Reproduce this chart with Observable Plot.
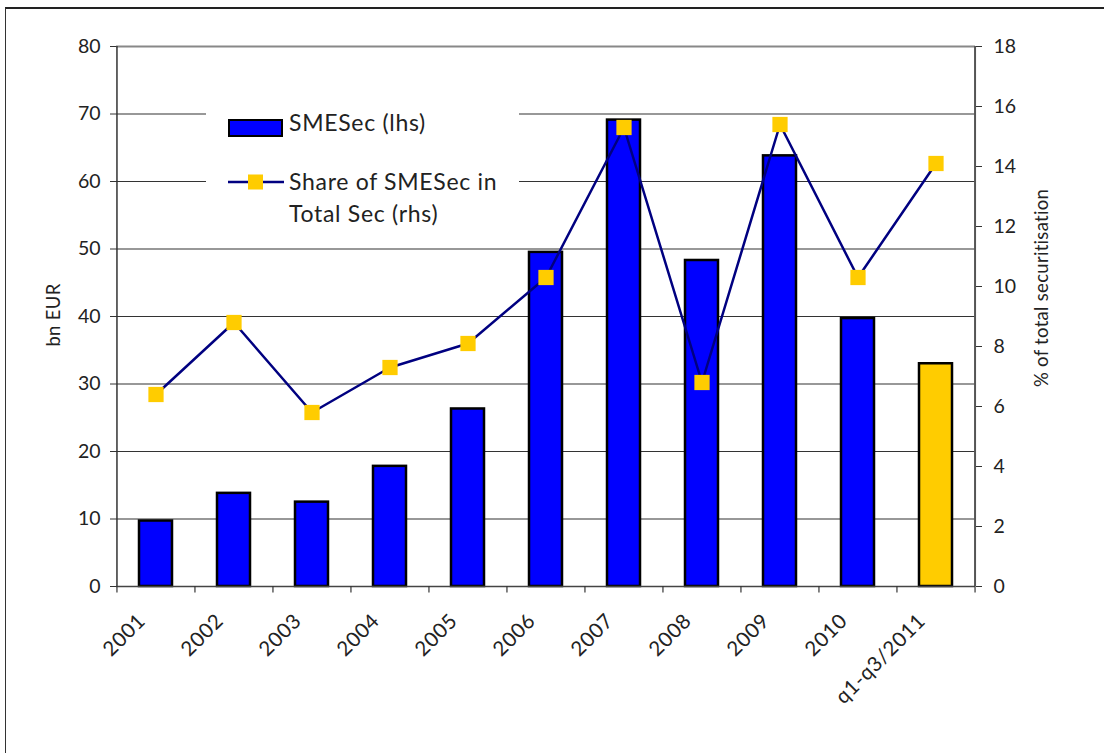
<!DOCTYPE html>
<html>
<head>
<meta charset="utf-8">
<script src="https://cdn.jsdelivr.net/npm/d3@7"></script>
<script src="https://cdn.jsdelivr.net/npm/@observablehq/plot@0.6"></script>
<style>
  html, body { margin: 0; padding: 0; background: #fff; }
  #wrap { position: relative; width: 1104px; height: 753px; overflow: hidden; font-family: Lato, "Noto Sans", sans-serif; color: #222; }
  #frame { position: absolute; left: 5px; top: 7px; width: 1110px; height: 760px; border-left: 1.5px solid #333; border-top: 2px solid #222; }
  #chart { position: absolute; left: 0; top: 0; }
  .ytitle { position: absolute; font-size: 18.5px; letter-spacing: 0.3px; white-space: nowrap; transform: translate(-50%, -50%) rotate(-90deg); }
  #legend { position: absolute; left: 206px; top: 95px; width: 313px; height: 142px; background: #fff; }
  #legend .sw { position: absolute; left: 22px; top: 24px; width: 51px; height: 14px; background: #0000FF; border: 2px solid #000; }
  #legend .t { position: absolute; left: 83px; font-size: 23px; letter-spacing: 0.7px; line-height: 32px; white-space: nowrap; color: #222; }
  #legend svg { position: absolute; left: 22px; top: 77px; }
  #chart svg g[aria-label="x-axis tick label"] text { letter-spacing: 0.6px; }
</style>
</head>
<body>
<div id="wrap">
  <div id="frame"></div>
  <div id="chart"></div>
  <div class="ytitle" style="left:53px; top:315px;">bn EUR</div>
  <div class="ytitle" style="left:1041px; top:288px;">% of total securitisation</div>
  <div id="legend">
    <div class="sw"></div>
    <div class="t" style="top:11px;">SMESec (lhs)</div>
    <svg width="56" height="20"><line x1="0" y1="10" x2="56" y2="10" stroke="#000080" stroke-width="2.5"/><rect x="20" y="2.5" width="15" height="15" fill="#FFCC00"/></svg>
    <div class="t" style="top:70px;">Share of SMESec in<br>Total Sec (rhs)</div>
  </div>
</div>
<script>
const categories = ["2001","2002","2003","2004","2005","2006","2007","2008","2009","2010","q1-q3/2011"];
const smeSec = [9.7, 13.8, 12.5, 17.8, 26.3, 49.5, 69.1, 48.3, 63.8, 39.7, 33.0];
const shareOfTotal = [6.4, 8.8, 5.8, 7.3, 8.1, 10.3, 15.3, 6.8, 15.4, 10.3, 14.1];
const barColors = ["#0000FF","#0000FF","#0000FF","#0000FF","#0000FF","#0000FF","#0000FF","#0000FF","#0000FF","#0000FF","#FFCC00"];
const leftTicks = [0,10,20,30,40,50,60,70,80];
const rightTicks = [0,2,4,6,8,10,12,14,16,18];

const LMAX = 80, RMAX = 18;
const k = LMAX / RMAX;
const data = categories.map((c, i) => ({cat: c, value: smeSec[i], share: shareOfTotal[i], color: barColors[i]}));

const W = 1104, H = 753, mL = 116, mR = 129, mT = 46, mB = 167;
const step = (W - mL - mR) / categories.length;

const chart = Plot.plot({
  width: W, height: H,
  marginLeft: mL, marginRight: mR, marginTop: mT, marginBottom: mB,
  style: {fontFamily: "Lato, 'Noto Sans', sans-serif", fontSize: "19.5px", color: "#222", background: "transparent"},
  x: {type: "band", domain: categories, paddingInner: 0.58, paddingOuter: 0.29},
  y: {domain: [0, LMAX]},
  marks: [
    Plot.ruleY(leftTicks.filter(d => d > 0 && d < LMAX), {stroke: "#333", strokeWidth: 1.1}),
    Plot.ruleY([LMAX], {stroke: "#888", strokeWidth: 2}),
    Plot.barY(data, {x: "cat", y: "value", fill: "color", stroke: "#000", strokeWidth: 2.5}),
    Plot.line(data, {x: "cat", y: d => d.share * k, stroke: "#000080", strokeWidth: 2.5}),
    Plot.dot(data, {x: "cat", y: d => d.share * k, symbol: "square", r: 8.6, fill: "#FFCC00", stroke: "none"}),
    Plot.ruleX([0], {x: () => categories[0], dx: -step / 2, stroke: "#333", strokeWidth: 1.5}),
    Plot.ruleX([0], {x: () => categories[categories.length - 1], dx: step / 2, stroke: "#555", strokeWidth: 2}),
    Plot.ruleY([0], {stroke: "#444", strokeWidth: 1.5}),
    Plot.ruleX(categories, {x: d => d, y1: 0, y2: -0.95, dx: -step / 2, stroke: "#333", strokeWidth: 1.2}),
    Plot.ruleX([categories[categories.length - 1]], {x: d => d, y1: 0, y2: -0.95, dx: step / 2, stroke: "#333", strokeWidth: 1.2}),
    Plot.axisY({anchor: "left", ticks: leftTicks, tickSize: 6, tickPadding: 10, label: null, stroke: "#333"}),
    Plot.axisY({anchor: "right", ticks: rightTicks.map(v => v * k), tickFormat: d => String(Math.round(d / k)), tickSize: 6, tickPadding: 12, label: null, stroke: "#333"}),
    Plot.axisX({anchor: "bottom", tickSize: 0, tickPadding: 31, tickRotate: -45, dx: -14, fontSize: 20.5, label: null})
  ]
});
document.getElementById("chart").appendChild(chart);
</script>
</body>
</html>
